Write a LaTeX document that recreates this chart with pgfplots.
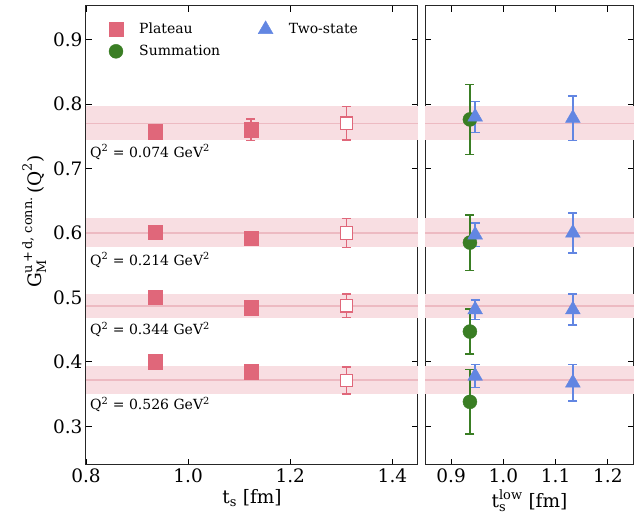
\documentclass[border=0pt]{standalone}
\usepackage{fontspec}
\setmainfont{DejaVu Serif}
\usepackage{amsmath}
\usepackage{pgfplots}
\pgfplotsset{compat=1.18}

\definecolor{pl}{HTML}{E0677A}
\definecolor{band}{HTML}{F8DEE2}
\definecolor{bandline}{HTML}{EDBAC2}
\definecolor{gr}{HTML}{3A7E24}
\definecolor{bl}{HTML}{6286E2}

\pgfplotsset{mystyle/.style={
  scale only axis, height=459pt,
  ymin=0.24, ymax=0.952,
  tick align=inside, major tick length=6pt,
  tick style={black, line width=0.8pt},
  axis line style={line width=1pt, black!85},
  ytick={0.3,0.4,0.5,0.6,0.7,0.8,0.9},
  ticklabel style={font=\fontsize{18.5}{20}\selectfont},
  label style={font=\fontsize{18.5}{20}\selectfont},
  /pgf/number format/assume math mode=true,
  xticklabel style={/pgf/number format/fixed, /pgf/number format/fixed zerofill, /pgf/number format/precision=1},
  yticklabel style={/pgf/number format/fixed, /pgf/number format/fixed zerofill, /pgf/number format/precision=1},
  clip=true,
}}
\pgfplotsset{
  ebar/.style={error bars/.cd, y dir=both, y explicit,
     error bar style={line width=1.5pt},
     error mark options={rotate=90, mark size=4.5pt, line width=1.5pt}},
}

\begin{document}
\begin{tikzpicture}
\useasboundingbox (-86pt,-54pt) rectangle (555pt,465pt);

% ---------------- left panel ----------------
\begin{axis}[mystyle, at={(0pt,0pt)}, anchor=south west, width=332pt,
  xmin=0.8, xmax=1.45, xtick={0.8,1.0,1.2,1.4},
  xlabel={t\textsubscript{s} [fm]},
  ylabel={$\text{G}_{\text{M}}^{\text{u\,+\,d, conn.}}\,\text{(Q}^{\text{2}}\text{)}$},
  ylabel style={at={(ticklabel cs:0.53)}},
  legend columns=2,
  legend cell align=left,
  legend style={at={(0.059,0.9725)}, anchor=north west, draw=none, fill=none,
     font=\fontsize{14}{16}\selectfont, row sep=6pt,
     /tikz/every odd column/.append style={column sep=14pt},
     /tikz/every even column/.append style={column sep=36pt}},
]
% bands
\addplot[draw=none, fill=band, forget plot] coordinates {(0.8,0.744) (1.45,0.744) (1.45,0.797) (0.8,0.797)};
\addplot[bandline, line width=1.5pt, forget plot] coordinates {(0.8,0.770) (1.45,0.770)};
\addplot[draw=none, fill=band, forget plot] coordinates {(0.8,0.578) (1.45,0.578) (1.45,0.623) (0.8,0.623)};
\addplot[bandline, line width=1.5pt, forget plot] coordinates {(0.8,0.600) (1.45,0.600)};
\addplot[draw=none, fill=band, forget plot] coordinates {(0.8,0.468) (1.45,0.468) (1.45,0.506) (0.8,0.506)};
\addplot[bandline, line width=1.5pt, forget plot] coordinates {(0.8,0.487) (1.45,0.487)};
\addplot[draw=none, fill=band, forget plot] coordinates {(0.8,0.350) (1.45,0.350) (1.45,0.394) (0.8,0.394)};
\addplot[bandline, line width=1.5pt, forget plot] coordinates {(0.8,0.372) (1.45,0.372)};

% plateau filled
\addplot[only marks, mark=square*, mark size=7.2pt, color=pl, forget plot, ebar] coordinates {
 (0.936,0.757) +- (0,0.004)
 (1.123,0.760) +- (0,0.017)
 (0.936,0.601) +- (0,0.004)
 (1.123,0.592) +- (0,0.008)
 (0.936,0.500) +- (0,0.004)
 (1.123,0.484) +- (0,0.005)
 (0.936,0.400) +- (0,0.004)
 (1.123,0.385) +- (0,0.006)
};
% plateau open
\addplot[only marks, mark=square*, mark size=6.3pt, color=pl, line width=1.3pt,
  mark options={fill=white}, forget plot, ebar] coordinates {
 (1.310,0.770) +- (0,0.026)
 (1.310,0.600) +- (0,0.0225)
 (1.310,0.487) +- (0,0.018)
 (1.310,0.371) +- (0,0.021)
};

\node[anchor=west, font=\fontsize{14}{16}\selectfont, inner sep=4pt] at (axis cs:0.8,0.7255) {Q\textsuperscript{2} = 0.074 GeV\textsuperscript{2}};
\node[anchor=west, font=\fontsize{14}{16}\selectfont, inner sep=4pt] at (axis cs:0.8,0.558) {Q\textsuperscript{2} = 0.214 GeV\textsuperscript{2}};
\node[anchor=west, font=\fontsize{14}{16}\selectfont, inner sep=4pt] at (axis cs:0.8,0.450) {Q\textsuperscript{2} = 0.344 GeV\textsuperscript{2}};
\node[anchor=west, font=\fontsize{14}{16}\selectfont, inner sep=4pt] at (axis cs:0.8,0.334) {Q\textsuperscript{2} = 0.526 GeV\textsuperscript{2}};

\addlegendimage{only marks, mark=square*, mark size=7.2pt, color=pl}
\addlegendimage{only marks, mark=triangle*, mark size=8.5pt, color=bl}
\addlegendimage{only marks, mark=*, mark size=7pt, color=gr}
\legend{Plateau, Two-state, Summation}
\end{axis}

% ---------------- right panel ----------------
\begin{axis}[mystyle, at={(339pt,0pt)}, anchor=south west, width=209pt,
  xmin=0.85, xmax=1.25, xtick={0.9,1.0,1.1,1.2},
  yticklabels={},
  xlabel={$\text{t}_{\text{s}}^{\text{low}}$ [fm]},
]
\addplot[draw=none, fill=band] coordinates {(0.85,0.744) (1.25,0.744) (1.25,0.797) (0.85,0.797)};
\addplot[bandline, line width=1.5pt] coordinates {(0.85,0.770) (1.25,0.770)};
\addplot[draw=none, fill=band] coordinates {(0.85,0.578) (1.25,0.578) (1.25,0.623) (0.85,0.623)};
\addplot[bandline, line width=1.5pt] coordinates {(0.85,0.600) (1.25,0.600)};
\addplot[draw=none, fill=band] coordinates {(0.85,0.468) (1.25,0.468) (1.25,0.506) (0.85,0.506)};
\addplot[bandline, line width=1.5pt] coordinates {(0.85,0.487) (1.25,0.487)};
\addplot[draw=none, fill=band] coordinates {(0.85,0.350) (1.25,0.350) (1.25,0.394) (0.85,0.394)};
\addplot[bandline, line width=1.5pt] coordinates {(0.85,0.372) (1.25,0.372)};

% summation
\addplot[only marks, mark=*, mark size=7pt, color=gr, ebar] coordinates {
 (0.936,0.776) +- (0,0.054)
 (0.936,0.585) +- (0,0.043)
 (0.936,0.447) +- (0,0.035)
 (0.936,0.338) +- (0,0.050)
};
% two-state
\addplot[only marks, mark=triangle*, mark size=8.5pt, color=bl, ebar] coordinates {
 (0.946,0.780) +- (0,0.024)
 (0.946,0.597) +- (0,0.018)
 (0.946,0.481) +- (0,0.015)
 (0.946,0.378) +- (0,0.018)
 (1.133,0.778) +- (0,0.0345)
 (1.133,0.600) +- (0,0.031)
 (1.133,0.481) +- (0,0.024)
 (1.133,0.3675) +- (0,0.0285)
};
\end{axis}
\end{tikzpicture}
\end{document}
